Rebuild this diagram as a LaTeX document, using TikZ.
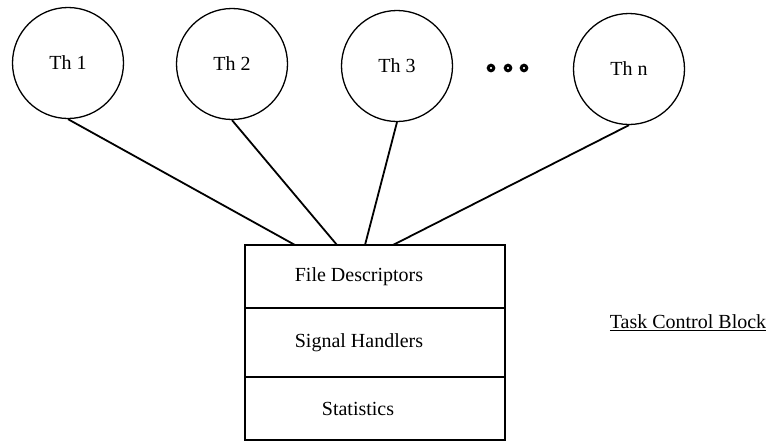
\documentclass[tikz,border=0pt]{standalone}
\usepackage{fontspec}
\setmainfont{Liberation Serif}
\begin{document}
\begin{tikzpicture}[x=1pt,y=-1pt,
  every node/.style={font=\fontsize{20}{24}\selectfont},
  thread/.style={draw, circle, minimum size=111pt, inner sep=0pt, line width=1.3pt},
  row/.style={draw, rectangle, minimum width=260pt, inner sep=0pt, line width=1.5pt},
  link/.style={line width=1.8pt},
  ellipsisdot/.style={draw, circle, minimum size=5.5pt, inner sep=0pt, line width=3pt}]
\useasboundingbox (0,0) rectangle (769,442);

% threads
\node[thread] (th1) at (68,63)  {Th 1};
\node[thread] (th2) at (232,64) {Th 2};
\node[thread] (th3) at (397,66) {Th 3};
\node[thread] (thn) at (629,69) {Th n};

% ellipsis between Th 3 and Th n
\node[ellipsisdot] (d1) at (491,68) {};
\node[ellipsisdot] (d2) at (508,68) {};
\node[ellipsisdot] (d3) at (524,68) {};

% task control block rows
\node[row, minimum height=63pt, label={[xshift=-16pt]center:File Descriptors}] (fd) at (375,276.5) {};
\node[row, minimum height=69pt, label={[xshift=-16pt]center:Signal Handlers}] (sh) at (375,342.5) {};
\node[row, minimum height=63pt, label={[xshift=-17pt]center:Statistics}] (st) at (375,408.5) {};

\node (tcb) at (688,323) {\underline{Task Control Block}};

% attachment points on the top edge of the block
\coordinate (a1) at (295,245);
\coordinate (a2) at (337,245);
\coordinate (a3) at (365,245);
\coordinate (a4) at (393,245);

\draw[link] (th1.south) -- (a1);
\draw[link] (th2.south) -- (a2);
\draw[link] (th3.south) -- (a3);
\draw[link] (thn.south) -- (a4);
\end{tikzpicture}
\end{document}
